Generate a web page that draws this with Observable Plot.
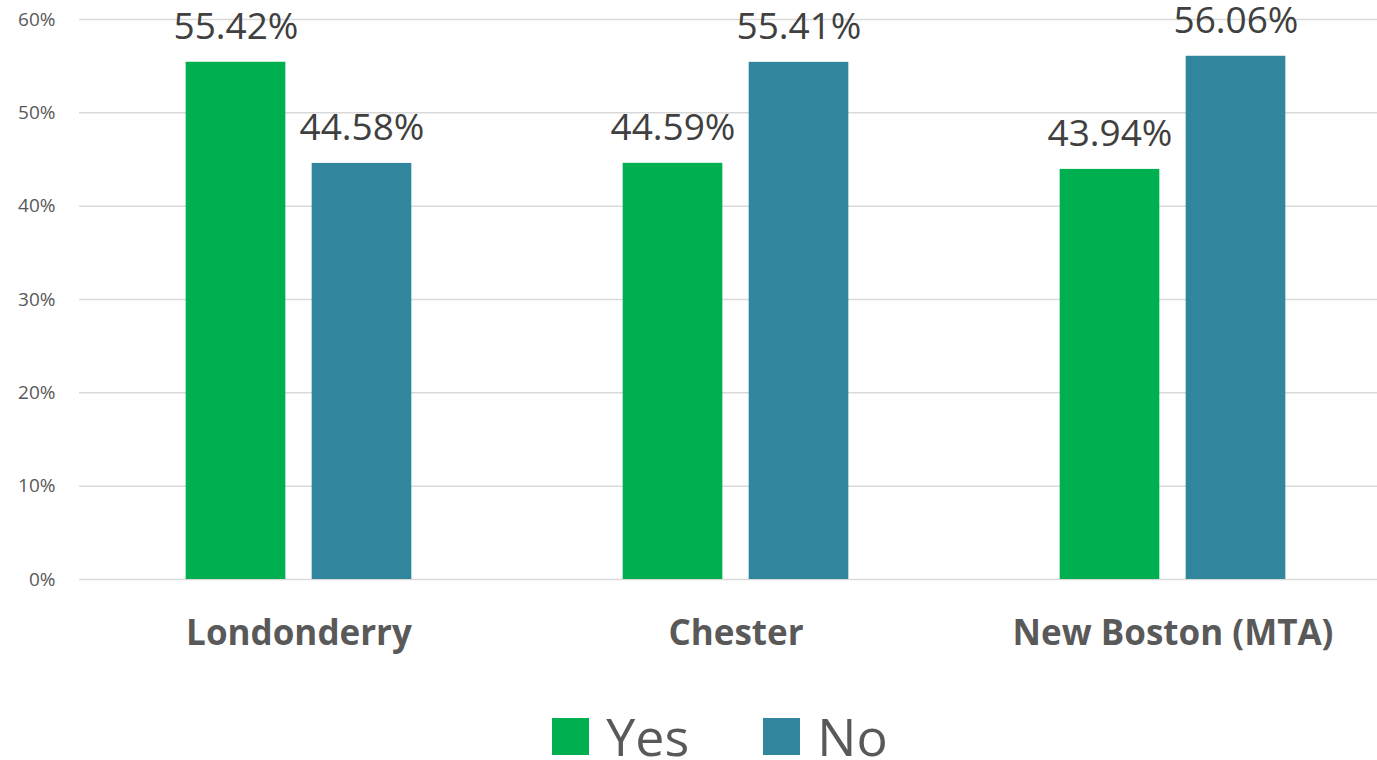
<!DOCTYPE html>
<html>
<head>
<meta charset="utf-8">
<script src="https://cdn.jsdelivr.net/npm/d3@7"></script>
<script src="https://cdn.jsdelivr.net/npm/@observablehq/plot@0.6"></script>
<style>
  body { margin: 0; background: #fff; font-family: "Open Sans", sans-serif; }
  #chart svg { overflow: visible; }
  #legend { display: flex; justify-content: center; align-items: center; padding-left: 63px; height: 70px; margin-top: 11px; }
  .item { display: flex; align-items: center; margin: 0 37px; }
  .sw { width: 37px; height: 37px; margin-right: 17px; }
  .lab { font-size: 52px; color: #595959; line-height: 70px; }
</style>
</head>
<body>
<div id="chart"></div>
<div id="legend"></div>
<script>
const towns = ["Londonderry", "Chester", "New Boston (MTA)"];
const answers = ["Yes", "No"];
const yesValues = [0.5542, 0.4459, 0.4394];
const noValues = [0.4458, 0.5541, 0.5606];
const colors = ["#00B050", "#31859C"];
const yTicks = [0, 0.1, 0.2, 0.3, 0.4, 0.5, 0.6];

const rows = [];
towns.forEach((t, i) => {
  rows.push({town: t, answer: "Yes", value: yesValues[i]});
  rows.push({town: t, answer: "No", value: noValues[i]});
});
const yesRows = rows.filter(d => d.answer === "Yes");
const noRows = rows.filter(d => d.answer === "No");

const bw = (1391 - 79) / 3;
const half = bw / 2;

const chart = Plot.plot({
  width: 1377,
  height: 690,
  marginTop: 19,
  marginBottom: 111,
  marginLeft: 79,
  marginRight: 0,
  style: {fontFamily: "Open Sans", background: "white", overflow: "visible"},
  x: {domain: towns, range: [79, 1391], padding: 0},
  y: {domain: [0, 0.6]},
  color: {domain: answers, range: colors},
  marks: [
    Plot.ruleY(yTicks, {stroke: "#d9d9d9", strokeWidth: 1.5}),
    Plot.barY(yesRows, {x: "town", y: "value", fill: "answer", insetLeft: half - 113, insetRight: half + 13}),
    Plot.barY(noRows, {x: "town", y: "value", fill: "answer", insetLeft: half + 13, insetRight: half - 113}),
    Plot.text(yesRows, {x: "town", y: "value", dx: -63, dy: -35, text: d => d3.format(".2%")(d.value), fontSize: 37, fill: "#404040"}),
    Plot.text(noRows, {x: "town", y: "value", dx: 63, dy: -35, text: d => d3.format(".2%")(d.value), fontSize: 37, fill: "#404040"}),
    Plot.axisY(yTicks, {tickFormat: d3.format(".0%"), tickSize: 0, tickPadding: 24, fontSize: 19, color: "#595959", label: null}),
    Plot.axisX({tickSize: 0, tickPadding: 41, fontSize: 35, fontWeight: "bold", color: "#595959", label: null})
  ]
});
document.getElementById("chart").appendChild(chart);

const legend = document.getElementById("legend");
answers.forEach((a, i) => {
  const item = document.createElement("div");
  item.className = "item";
  const sw = document.createElement("div");
  sw.className = "sw";
  sw.style.background = colors[i];
  const lab = document.createElement("span");
  lab.className = "lab";
  lab.textContent = a;
  item.appendChild(sw);
  item.appendChild(lab);
  legend.appendChild(item);
});
</script>
</body>
</html>
